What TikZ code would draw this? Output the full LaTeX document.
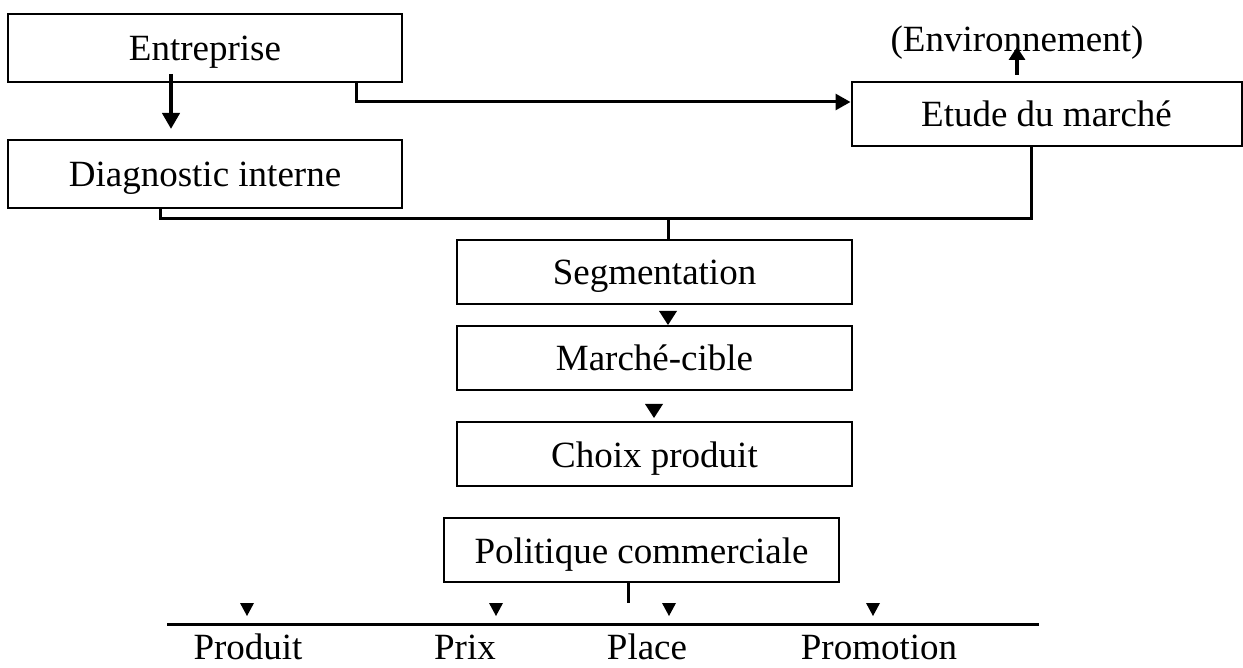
\documentclass[tikz,border=0pt]{standalone}
\usepackage{fontspec}
\setmainfont{Liberation Serif}
\usetikzlibrary{arrows.meta,calc}
\begin{document}
\begin{tikzpicture}[x=1pt,y=-1pt,
  every node/.style={font=\fontsize{37}{44}\selectfont},
  box/.style={draw,line width=2pt,inner sep=0pt,text height=30pt,text depth=4pt,minimum height=64pt},
  conn/.style={line width=3pt},
  thickarr/.style={line width=4.5pt,-{Triangle[width=17pt,length=16pt]}},
  lbl/.style={anchor=base,inner sep=0pt},
  dtri/.pic={\fill (-9,0)--(9,0)--(0,14)--cycle;},
  stri/.pic={\fill (-7,0)--(7,0)--(0,13)--cycle;}]
\useasboundingbox[fill=white] (0,0) rectangle (1243,668);

% boxes
\node[box,minimum width=394pt,minimum height=68pt] (ent) at (205,48) {Entreprise};
\node[box,minimum width=394pt,minimum height=68pt] (diag) at (205,174) {Diagnostic interne};
\node[box,minimum width=390pt] (etude) at (1046.5,114) {Etude du march\'e};
\node[lbl] (env) at (1017,52) {(Environnement)};
\node[box,minimum width=395pt] (seg) at (654.5,272) {Segmentation};
\node[box,minimum width=395pt] (cible) at (654.5,358) {March\'e-cible};
\node[box,minimum width=395pt] (choix) at (654.5,454) {Choix produit};
\node[box,minimum width=395pt] (pol) at (641.5,550) {Politique commerciale};

% connectors
\draw[thickarr] ([xshift=-34pt,yshift=9pt]ent.south) -- ([xshift=-34pt,yshift=10pt]diag.north);
\draw[conn,-{Triangle[width=16pt,length=15pt]}] ([xshift=151pt]ent.south) |- ([yshift=12pt]etude.west);
\draw[thickarr,-{Triangle[width=16pt,length=13pt]}] ([xshift=-29.5pt,yshift=6pt]etude.north) -- ([yshift=5pt]env.base);
\draw[conn] ([xshift=-45pt]diag.south) -- ++(0,10) -| ([xshift=-15.5pt]etude.south);
\draw[conn] ([xshift=13.5pt]seg.north) -- ++(0,-22);

% triangles between boxes
\pic at ([xshift=13.5pt,yshift=-6pt]seg.south) {dtri};
\pic at ([xshift=-0.5pt,yshift=-13pt]cible.south) {dtri};

% bottom
\draw[conn] ([xshift=-13.5pt]pol.south) -- ++(0,20);
\pic at ([xshift=-394.5pt,yshift=-20pt]pol.south) {stri};
\pic at ([xshift=-145.5pt,yshift=-20pt]pol.south) {stri};
\pic at ([xshift=27.5pt,yshift=-20pt]pol.south) {stri};
\pic at ([xshift=231.5pt,yshift=-20pt]pol.south) {stri};
\draw[conn] (167,624) -- (1039,624);

\node[lbl] (produit) at (248,659) {Produit};
\node[lbl] (prix) at (465,659) {Prix};
\node[lbl] (place) at (647,659) {Place};
\node[lbl] (promo) at (879,659) {Promotion};
\end{tikzpicture}
\end{document}
